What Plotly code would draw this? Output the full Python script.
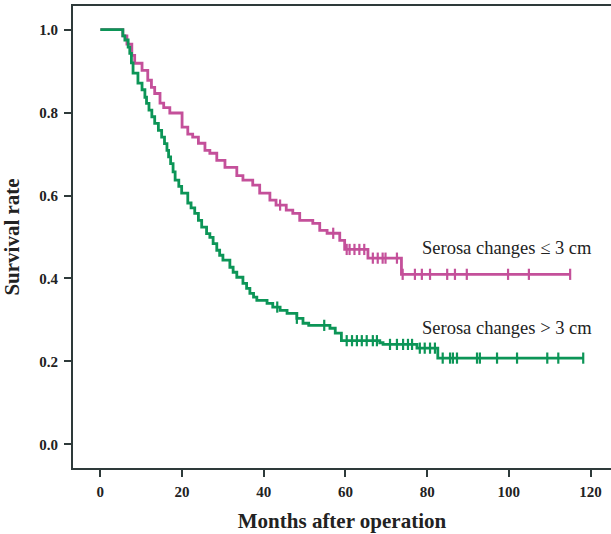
import plotly.graph_objects as go
import numpy as np

# ---- data ----
pink_t = [0, 5.5, 6.5, 7.7, 8.4, 10.2, 11.6, 12.5, 13.3, 14.6, 15.5, 17.0, 20.0, 21.4, 22.6,
          24.0, 25.6, 26.8, 28.5, 30.5, 33.4, 34.9, 37.3, 39.0, 41.5, 43.0, 45.5, 47.1, 48.8,
          52.0, 53.7, 55.5, 58.6, 59.8, 65.5, 73.7, 115.0]
pink_s = [1.0, 0.985, 0.965, 0.938, 0.919, 0.902, 0.878, 0.861, 0.846, 0.823, 0.812, 0.799,
          0.765, 0.748, 0.741, 0.726, 0.709, 0.702, 0.685, 0.668, 0.648, 0.637, 0.625, 0.606,
          0.589, 0.577, 0.565, 0.557, 0.540, 0.533, 0.516, 0.509, 0.492, 0.470, 0.449, 0.410,
          0.410]
pink_cens = [44.0, 57.0, 60.3, 61.0, 62.2, 63.4, 64.6, 66.7, 67.9, 69.1, 69.8, 72.6,
             74.0, 77.0, 78.7, 80.7, 84.9, 86.8, 89.7, 99.8, 104.9, 115.0]

green_t = [0, 5.5, 6.0, 6.8, 7.2, 7.6, 8.0, 9.2, 10.2, 10.9, 11.3, 11.9, 12.6, 13.3, 14.2,
           15.0, 15.7, 16.3, 16.7, 17.2, 17.8, 18.3, 19.2, 19.9, 21.4, 22.2, 23.1, 24.0, 24.8,
           26.0, 26.8, 27.6, 28.5, 29.2, 30.0, 31.7, 32.5, 33.4, 34.9, 35.8, 36.6, 37.5, 38.3,
           40.8, 42.2, 44.0, 45.7, 48.1, 49.6, 51.0, 56.2, 57.5, 59.0, 68.4, 69.2, 77.5, 82.6,
           118.2]
green_s = [1.0, 0.985, 0.975, 0.958, 0.943, 0.920, 0.895, 0.871, 0.855, 0.837, 0.822, 0.806,
           0.790, 0.774, 0.757, 0.741, 0.725, 0.709, 0.693, 0.677, 0.657, 0.637, 0.622, 0.606,
           0.582, 0.570, 0.557, 0.540, 0.524, 0.508, 0.499, 0.484, 0.468, 0.456, 0.444, 0.427,
           0.415, 0.403, 0.388, 0.376, 0.364, 0.355, 0.347, 0.340, 0.331, 0.323, 0.316, 0.304,
           0.292, 0.287, 0.280, 0.268, 0.250, 0.245, 0.241, 0.232, 0.208, 0.208]
green_cens = [43.3, 48.1, 54.8, 60.3, 61.6, 62.8, 64.0, 65.2, 66.7, 67.7, 70.9, 72.6, 74.1,
              75.3, 76.3, 78.2, 79.4, 80.7, 81.9, 83.8, 85.6, 86.3, 87.3, 92.2, 92.9, 97.1,
              102.0, 109.4, 112.1, 118.2]

x_ticks = [0, 20, 40, 60, 80, 100, 120]
y_ticks = [0.0, 0.2, 0.4, 0.6, 0.8, 1.0]
label_pink = "Serosa changes ≤ 3 cm"
label_green = "Serosa changes > 3 cm"

PINK = "#C4509A"
GREEN = "#0C9557"
AX = "#2E3A3A"
FONT = "Liberation Serif"


def step_at(ts, ss, x):
    idx = np.searchsorted(np.array(ts), x, side="right") - 1
    return [ss[i] for i in idx]


fig = go.Figure()
for t, s, c, col in [(pink_t, pink_s, pink_cens, PINK), (green_t, green_s, green_cens, GREEN)]:
    fig.add_trace(go.Scatter(x=t, y=s, mode="lines", line=dict(color=col, width=2.8, shape="hv"),
                             showlegend=False, hoverinfo="skip"))
    fig.add_trace(go.Scatter(x=c, y=step_at(t, s, c), mode="markers",
                             marker=dict(symbol="line-ns", size=8, line=dict(color=col, width=2.2)),
                             showlegend=False, hoverinfo="skip"))

fig.add_annotation(x=78.2, y=0.473, text=label_pink, showarrow=False, xanchor="left",
                   yanchor="middle", font=dict(family=FONT, size=18.5, color="#222"))
fig.add_annotation(x=78.2, y=0.280, text=label_green, showarrow=False, xanchor="left",
                   yanchor="middle", font=dict(family=FONT, size=18.5, color="#222"))

fig.update_layout(
    width=611, height=534,
    margin=dict(l=73, r=0, t=6, b=66),
    paper_bgcolor="white", plot_bgcolor="white",
    font=dict(family=FONT, color="#222"),
    xaxis=dict(range=[-6.7, 125.0], tickvals=x_ticks, ticktext=[str(v) for v in x_ticks],
               showgrid=False, zeroline=False, showline=True, linecolor=AX, linewidth=2.2,
               mirror=True, ticks="outside", ticklen=7, tickwidth=2, tickcolor=AX,
               automargin=False, ticklabelstandoff=2,
               tickfont=dict(family=FONT, size=15, color="#222", weight="bold"),
               title=dict(text="<b>Months after operation</b>", standoff=14,
                          font=dict(family=FONT, size=21, color="#222"))),
    yaxis=dict(range=[-0.057, 1.057], tickvals=y_ticks, ticktext=[f"{v:.1f}" for v in y_ticks],
               showgrid=False, zeroline=False, showline=True, linecolor=AX, linewidth=2.2,
               ticks="outside", ticklen=7, tickwidth=2, tickcolor=AX,
               automargin=False, ticklabelstandoff=3,
               tickfont=dict(family=FONT, size=15, color="#222", weight="bold"),
               title=dict(text="<b>Survival rate</b>", standoff=14,
                          font=dict(family=FONT, size=21, color="#222"))),
)

fig.write_html("out.html", config={"displayModeBar": False},
               post_script="document.body.style.margin='0';")
